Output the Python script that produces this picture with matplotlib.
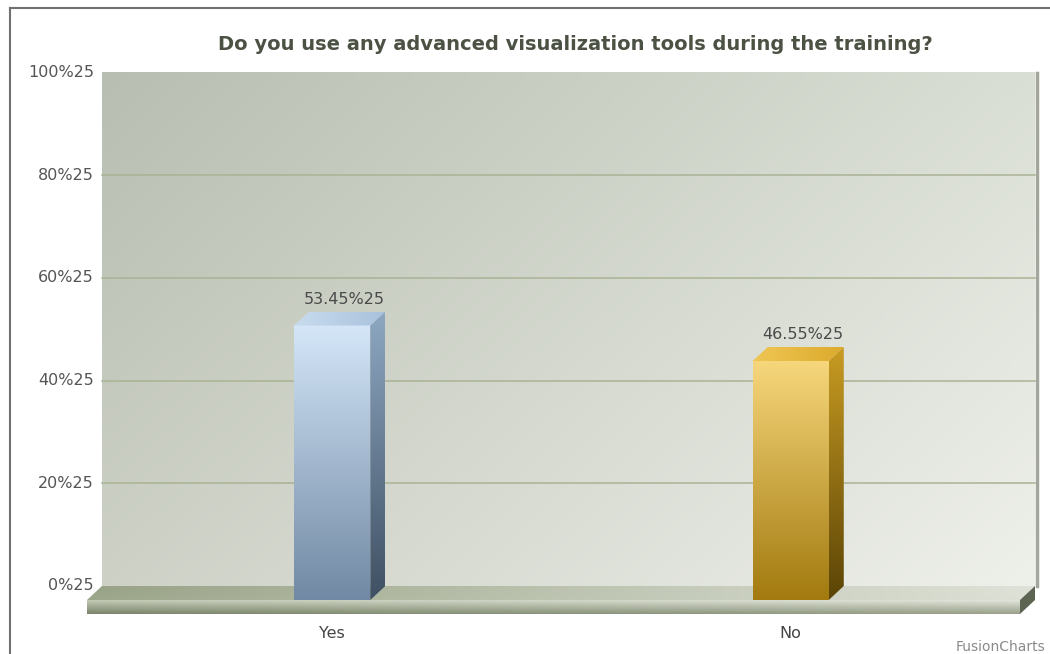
import matplotlib
matplotlib.use("Agg")
import matplotlib.pyplot as plt
import matplotlib.transforms as mtransforms
from matplotlib.patches import Polygon
from matplotlib.lines import Line2D
from matplotlib.colors import to_rgb
import numpy as np

title = "Do you use any advanced visualization tools during the training?"
answers = ["Yes", "No"]
shares = [53.45, 46.55]
value_labels = ["53.45%25", "46.55%25"]
ticks = [0, 20, 40, 60, 80, 100]
tick_labels = ["0%25", "20%25", "40%25", "60%25", "80%25", "100%25"]

# shades per column: front (top, bottom), side (top, bottom), top face (left, right)
front_cols = [("#d4e6f8", "#7189a4"), ("#f7d77c", "#a27a0f")]
side_cols = [("#8ea8c2", "#3f5063"), ("#c89b22", "#5b4406")]
top_cols = [("#c9dcef", "#a9c2dc"), ("#efc654", "#dcaa2c")]

W, H, DPI = 1050, 654, 100
DEPTH_X, DEPTH_Y = 15, 14   # 3d depth in pixels
BAR_PX = 76
FLOOR_PX = 14

fig = plt.figure(figsize=(W / DPI, H / DPI), dpi=DPI)
ax = fig.add_axes([87 / W, 54 / H, 933 / W, 513.5 / H])
ax.set_axis_off()
xlim = (-0.535, 1.5)
ylim = (0, 100)
ax.set_xlim(*xlim)
ax.set_ylim(*ylim)


def px(dx, dy):
    return mtransforms.ScaledTranslation(dx / DPI, dy / DPI, fig.dpi_scale_trans)


back_data = ax.transData + px(DEPTH_X, DEPTH_Y)
back_axes = ax.transAxes + px(DEPTH_X, DEPTH_Y)


def grad(tl, tr, bl, br, n=128):
    tl, tr, bl, br = [np.array(to_rgb(c)) for c in (tl, tr, bl, br)]
    u = np.linspace(0, 1, n)[None, :, None]
    v = np.linspace(0, 1, n)[:, None, None]
    top = tl + (tr - tl) * u
    bot = bl + (br - bl) * u
    return top + (bot - top) * v


def paint(arr, extent, transform, clip=None, z=1):
    im = ax.imshow(arr, extent=extent, transform=transform, aspect="auto",
                   interpolation="bilinear", origin="upper", zorder=z, clip_on=False)
    if clip is not None:
        patch = Polygon(clip, closed=True, transform=transform,
                        facecolor="none", edgecolor="none")
        im.set_clip_on(True)
        im.set_clip_box(fig.bbox)
        im.set_clip_path(patch)
    return im


# pixel -> data / axes unit conversions
p0 = ax.transData.transform((0, 0))
p1 = ax.transData.transform((1, 1))
ppx, ppy = p1 - p0
ax_w, ax_h = 933.0, 513.5
dxa, dya, fh = DEPTH_X / ax_w, DEPTH_Y / ax_h, FLOOR_PX / ax_h

# back wall
paint(grad("#b8beb1", "#dadfd5", "#cdd1c6", "#eef0ea"), [0, 1, 0, 1], back_axes, z=0)
ax.add_line(Line2D([1.002, 1.002], [0, 1], transform=back_axes, color="#a3a79b",
                   lw=2.5, clip_on=False, zorder=0.5))
for t in ticks[1:-1]:
    ax.plot(xlim, [t, t], transform=back_data, color="#a9b395", lw=1.1,
            clip_on=False, zorder=1)

# tick labels sit on the back wall
for t, lab in zip(ticks, tick_labels):
    ax.text(xlim[0], t, lab, transform=back_data + px(-8, 0), ha="right",
            va="center", fontsize=11.5, color="#555555")

# floor: top, front and right side
top_poly = [(0, 0), (1, 0), (1 + dxa, dya), (dxa, dya)]
paint(grad("#98a286", "#dfe2d8", "#9da78b", "#dde1d6"), [0, 1 + dxa, 0, dya],
      ax.transAxes, clip=top_poly, z=2)
paint(grad("#c3cab6", "#e2e5da", "#7a846a", "#98a08a"), [0, 1, -fh, 0],
      ax.transAxes, z=2)
ax.add_patch(Polygon([(1, -fh), (1, 0), (1 + dxa, dya), (1 + dxa, dya - fh)],
                     closed=True, transform=ax.transAxes, facecolor="#5d6552",
                     edgecolor="none", clip_on=False, zorder=2))

# columns
bar_w = BAR_PX / ppx
ddx, ddy = DEPTH_X / ppx, DEPTH_Y / ppy
for i, v in enumerate(shares):
    x0, x1 = i - bar_w / 2, i + bar_w / 2
    ft, fb = front_cols[i]
    st, sb = side_cols[i]
    tl, tr = top_cols[i]
    paint(grad(ft, ft, fb, fb), [x0, x1, 0, v], ax.transData, z=3)
    side = [(x1, 0), (x1, v), (x1 + ddx, v + ddy), (x1 + ddx, ddy)]
    paint(grad(st, st, sb, sb), [x1, x1 + ddx, 0, v + ddy], ax.transData, clip=side, z=3)
    top = [(x0, v), (x1, v), (x1 + ddx, v + ddy), (x0 + ddx, v + ddy)]
    paint(grad(tl, tr, tl, tr), [x0, x1 + ddx, v, v + ddy], ax.transData, clip=top, z=3)
    ax.text(i + ddx / 2 + 0.01, v + ddy, value_labels[i], transform=ax.transData + px(0, 5),
            ha="center", va="bottom", fontsize=11.5, color="#4a4a4a")
    ax.text(i, 0, answers[i], transform=ax.transData + px(0, -34), ha="center",
            va="center", fontsize=11.5, color="#444444")

ax.set_xlim(*xlim)
ax.set_ylim(*ylim)

fig.text(575 / W, 1 - 45 / H, title, ha="center", va="center", fontsize=14,
         fontweight="bold", color="#4b5244")
fig.text(1045 / W, 1 - 647 / H, "FusionCharts", ha="right", va="center",
         fontsize=10, color="#8a8a8a")

# outer frame
fig.add_artist(Line2D([10 / W, 1], [1 - 8 / H, 1 - 8 / H], transform=fig.transFigure,
                      color="#707070", lw=1.5))
fig.add_artist(Line2D([10 / W, 10 / W], [0, 1 - 8 / H], transform=fig.transFigure,
                      color="#707070", lw=1.5))

fig.savefig("out.png", dpi=DPI, facecolor="white")
